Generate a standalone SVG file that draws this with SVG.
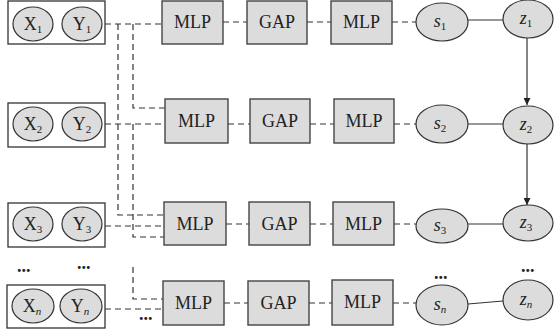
<svg xmlns="http://www.w3.org/2000/svg" width="554" height="335" viewBox="0 0 554 335">
<defs>
<style>
.grp{fill:#fff;stroke:#333;stroke-width:1.3}
.el{fill:#dcdcdc;stroke:#333;stroke-width:1.2}
.bx{fill:#dcdcdc;stroke:#444;stroke-width:1.4}
.t{font-size:18px;fill:#222;text-anchor:middle}
.i{font-style:italic}
.sub{font-size:11px;font-style:normal}
.subi{font-size:11px;font-style:italic}
.d{fill:none;stroke:#333;stroke-width:1.2;stroke-dasharray:6 4}
.s{fill:none;stroke:#333;stroke-width:1.2}
.dots{font-size:18px;fill:#222;font-weight:bold}
</style>
<marker id="ah" viewBox="0 0 10 10" refX="10" refY="5" markerWidth="7" markerHeight="7" markerUnits="userSpaceOnUse" orient="auto"><path d="M0,0 L10,5 L0,10 z" fill="#222"/></marker>
</defs>

<g id="connectors">
<path class="d" d="M105,24 H162"/>
<path class="d" d="M118,24 V215 H164"/>
<path class="d" d="M133,24 V108 H165"/>
<path class="d" d="M223,22 H247"/>
<path class="d" d="M307,22 H331"/>
<path class="d" d="M392,22 H416"/>
<path class="s" d="M468,20 H503"/>
<path class="s" d="M527,38 V105" marker-end="url(#ah)"/>
<path class="d" d="M105,124 H165"/>
<path class="d" d="M133,124 V237 H164"/>
<path class="d" d="M228,124 H250"/>
<path class="d" d="M310,124 H334"/>
<path class="d" d="M394,124 H416"/>
<path class="s" d="M468,124 H503"/>
<path class="s" d="M527,144 V205" marker-end="url(#ah)"/>
<path class="d" d="M105,226 H164"/>
<path class="d" d="M226,224 H249"/>
<path class="d" d="M310,224 H333"/>
<path class="d" d="M394,224 H416"/>
<path class="s" d="M468,224 H503"/>
<path class="d" d="M133,267 V299 H163"/>
<path class="d" d="M105,309 H163"/>
<path class="d" d="M224,303 H248"/>
<path class="d" d="M309,303 H332"/>
<path class="d" d="M393,303 H416"/>
<path class="s" d="M468,304 L503,301"/>
</g>

<g font-family="Liberation Serif, Times New Roman, serif">
<g id="input1">
<rect class="grp" x="8" y="1" width="97" height="43"/>
<ellipse class="el" cx="33" cy="24" rx="20" ry="17"/>
<ellipse class="el" cx="82" cy="24" rx="20" ry="17"/>
<text class="t" x="33" y="30">X<tspan class="sub" dy="3">1</tspan></text>
<text class="t" x="82" y="30">Y<tspan class="sub" dy="3">1</tspan></text>
</g>
<g id="input2">
<rect class="grp" x="8" y="103" width="97" height="44"/>
<ellipse class="el" cx="33" cy="124" rx="20" ry="17"/>
<ellipse class="el" cx="82" cy="124" rx="20" ry="17"/>
<text class="t" x="33" y="130">X<tspan class="sub" dy="3">2</tspan></text>
<text class="t" x="82" y="130">Y<tspan class="sub" dy="3">2</tspan></text>
</g>
<g id="input3">
<rect class="grp" x="8" y="203" width="97" height="44"/>
<ellipse class="el" cx="33" cy="224" rx="20" ry="17"/>
<ellipse class="el" cx="82" cy="224" rx="20" ry="17"/>
<text class="t" x="33" y="230">X<tspan class="sub" dy="3">3</tspan></text>
<text class="t" x="82" y="230">Y<tspan class="sub" dy="3">3</tspan></text>
</g>
<g id="inputn">
<rect class="grp" x="7" y="285" width="98" height="43"/>
<ellipse class="el" cx="33" cy="306" rx="21" ry="17"/>
<ellipse class="el" cx="81" cy="306" rx="21" ry="17"/>
<text class="t" x="32" y="312">X<tspan class="subi" dy="3">n</tspan></text>
<text class="t" x="80" y="312">Y<tspan class="subi" dy="3">n</tspan></text>
</g>

<g id="row1">
<g id="mlp1a"><rect class="bx" x="162" y="1" width="61" height="43"/><text class="t" x="192.5" y="28">MLP</text></g>
<g id="gap1"><rect class="bx" x="247" y="1" width="60" height="43"/><text class="t" x="277" y="28">GAP</text></g>
<g id="mlp1b"><rect class="bx" x="331" y="1" width="61" height="43"/><text class="t" x="361.5" y="28">MLP</text></g>
<g id="s1"><ellipse class="el" cx="442" cy="22" rx="26" ry="19"/><text class="t i" x="440" y="27">s<tspan class="sub" dy="3">1</tspan></text></g>
<g id="z1"><ellipse class="el" cx="528" cy="19" rx="25" ry="19"/><text class="t i" x="526" y="24">z<tspan class="sub" dy="3">1</tspan></text></g>
</g>
<g id="row2">
<g id="mlp2a"><rect class="bx" x="165" y="99" width="63" height="44"/><text class="t" x="196.5" y="127">MLP</text></g>
<g id="gap2"><rect class="bx" x="250" y="99" width="60" height="44"/><text class="t" x="280" y="127">GAP</text></g>
<g id="mlp2b"><rect class="bx" x="334" y="99" width="60" height="44"/><text class="t" x="364" y="127">MLP</text></g>
<g id="s2"><ellipse class="el" cx="442" cy="124" rx="26" ry="19"/><text class="t i" x="440" y="129">s<tspan class="sub" dy="3">2</tspan></text></g>
<g id="z2"><ellipse class="el" cx="528" cy="125" rx="25" ry="19"/><text class="t i" x="526" y="130">z<tspan class="sub" dy="3">2</tspan></text></g>
</g>
<g id="row3">
<g id="mlp3a"><rect class="bx" x="164" y="202" width="62" height="43"/><text class="t" x="195" y="230">MLP</text></g>
<g id="gap3"><rect class="bx" x="249" y="202" width="61" height="43"/><text class="t" x="279.5" y="230">GAP</text></g>
<g id="mlp3b"><rect class="bx" x="333" y="202" width="61" height="43"/><text class="t" x="363.5" y="230">MLP</text></g>
<g id="s3"><ellipse class="el" cx="442" cy="226" rx="26" ry="17"/><text class="t i" x="440" y="231">s<tspan class="sub" dy="3">3</tspan></text></g>
<g id="z3"><ellipse class="el" cx="528" cy="223" rx="25" ry="18"/><text class="t i" x="526" y="228">z<tspan class="sub" dy="3">3</tspan></text></g>
</g>
<g id="rown">
<g id="mlpna"><rect class="bx" x="163" y="281" width="61" height="44"/><text class="t" x="193.5" y="309">MLP</text></g>
<g id="gapn"><rect class="bx" x="248" y="281" width="61" height="44"/><text class="t" x="278.5" y="309">GAP</text></g>
<g id="mlpnb"><rect class="bx" x="332" y="280" width="61" height="45"/><text class="t" x="362.5" y="308">MLP</text></g>
<g id="sn"><ellipse class="el" cx="442" cy="305" rx="26" ry="20"/><text class="t i" x="440" y="310">s<tspan class="subi" dy="3">n</tspan></text></g>
<g id="zn"><ellipse class="el" cx="528" cy="300" rx="25" ry="20"/><text class="t i" x="526" y="305">z<tspan class="subi" dy="3">n</tspan></text></g>
</g>

<g id="ellipsis">
<text class="dots" x="17" y="272">...</text>
<text class="dots" x="77" y="269">...</text>
<text class="dots" x="139" y="320">...</text>
<text class="dots" x="434" y="279">...</text>
<text class="dots" x="521" y="272">...</text>
</g>
</g>
</svg>
